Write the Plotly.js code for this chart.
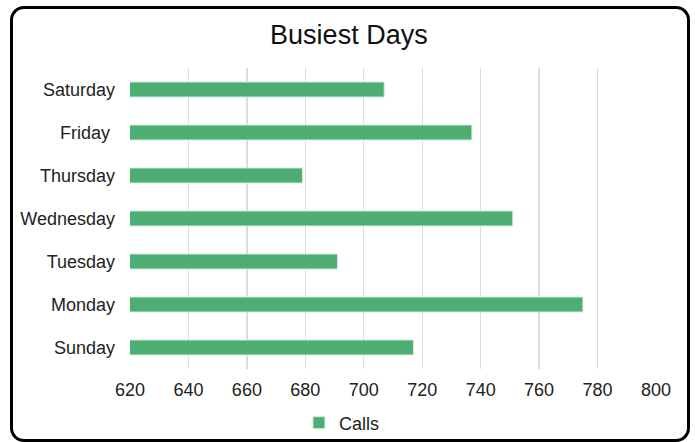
<!DOCTYPE html>
<html>
<head>
<meta charset="utf-8">
<script src="https://cdn.plot.ly/plotly-3.0.1.min.js"></script>
<style>
  html, body { margin: 0; padding: 0; background: #ffffff; }
  #wrap { position: relative; width: 695px; height: 442px; overflow: hidden; }
  #chart { position: absolute; left: 0; top: 0; width: 695px; height: 442px; }
  #frame {
    position: absolute; left: 10px; top: 6px; width: 680px; height: 436px;
    box-sizing: border-box; border: 3px solid #000; border-radius: 14px;
    pointer-events: none;
  }
</style>
</head>
<body>
<div id="wrap">
  <div id="chart"></div>
  <div id="frame"></div>
</div>
<script>
// Calls per weekday (bottom to top)
const days = ["Sunday", "Monday", "Tuesday", "Wednesday", "Thursday", "Friday\u00a0", "Saturday"];
const calls = [717, 775, 691, 751, 679, 737, 707];
const xTicks = [620, 640, 660, 680, 700, 720, 740, 760, 780, 800];

const FONT = "Liberation Sans, Arial, sans-serif";

const trace = {
  type: "bar",
  orientation: "h",
  name: "Calls",
  y: days,
  x: calls,
  width: 0.35,
  marker: { color: "rgb(76,174,115)", line: { color: "rgb(214,238,223)", width: 1 } },
  hoverinfo: "x+y"
};

const layout = {
  width: 695,
  height: 442,
  paper_bgcolor: "rgba(0,0,0,0)",
  plot_bgcolor: "rgba(0,0,0,0)",
  margin: { l: 130, r: 39, t: 68, b: 73 },
  font: { family: FONT, size: 18, color: "#222222" },
  title: {
    text: "Busiest Days",
    font: { family: FONT, size: 27, color: "#111111" },
    x: 0.502, xanchor: "center",
    y: 1 - 43.5 / 442, yanchor: "bottom", yref: "container"
  },
  xaxis: {
    range: [620, 800],
    tickvals: xTicks,
    ticktext: xTicks.map(String),
    showgrid: true,
    gridcolor: "#dcdcdc",
    gridwidth: 1.3,
    zeroline: false,
    showline: false,
    ticks: "",
    ticklabelstandoff: 8,
    tickfont: { family: FONT, size: 18, color: "#222222" },
    fixedrange: true
  },
  yaxis: {
    type: "category",
    categoryorder: "array",
    categoryarray: days,
    showgrid: false,
    zeroline: false,
    showline: false,
    ticks: "",
    ticklabelstandoff: 14,
    tickfont: { family: FONT, size: 18, color: "#222222" },
    fixedrange: true
  },
  showlegend: true,
  legend: {
    orientation: "h",
    x: 0.492, xanchor: "center", xref: "container",
    y: 1 - 423 / 442, yanchor: "middle", yref: "container",
    font: { family: FONT, size: 18, color: "#222222" },
    itemwidth: 30
  },
  bargap: 0.65
};

Plotly.newPlot("chart", [trace], layout, { displayModeBar: false, staticPlot: true });
</script>
</body>
</html>
